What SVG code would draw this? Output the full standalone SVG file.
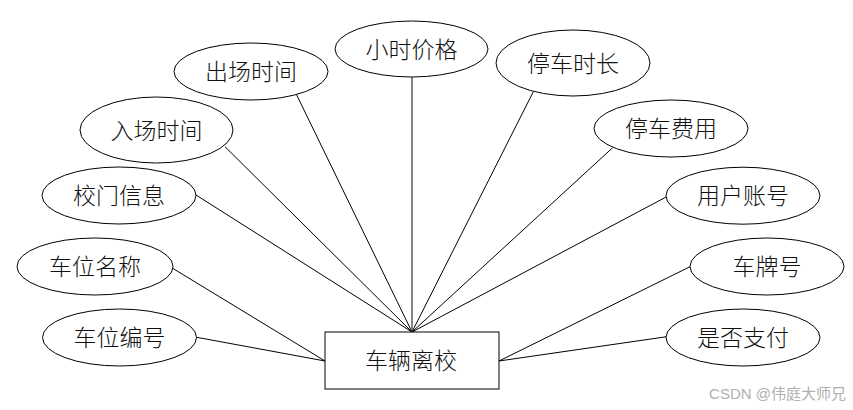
<svg xmlns="http://www.w3.org/2000/svg" width="853" height="410" viewBox="0 0 853 410">
<style>
.n ellipse,.n rect{fill:#fff;stroke:#000;stroke-width:1}
.n text{font-family:"Noto Sans CJK SC","Noto Sans CJK JP",sans-serif;font-size:23px;font-weight:300;fill:#111;text-anchor:middle;dominant-baseline:central}
#edges line{stroke:#000;stroke-width:1}
.wm{font-family:"Liberation Sans","Noto Sans CJK SC",sans-serif;font-size:15px;fill:#b0b0b0}
</style>
<rect width="853" height="410" fill="#fff"/>
<g id="edges">
<line x1="296.7" y1="95" x2="412" y2="332"/>
<line x1="412" y1="77" x2="412" y2="332" style="stroke:#666;stroke-width:1.6"/>
<line x1="225" y1="146.7" x2="412" y2="332"/>
<line x1="196" y1="195" x2="412" y2="332"/>
<line x1="533.3" y1="91.7" x2="412" y2="332"/>
<line x1="612.7" y1="147.7" x2="412" y2="332"/>
<line x1="666.7" y1="196.7" x2="412" y2="332"/>
<line x1="172.7" y1="268.3" x2="325" y2="361"/>
<line x1="196.7" y1="337.3" x2="325" y2="361"/>
<line x1="690" y1="266.7" x2="499" y2="361"/>
<line x1="666.7" y1="336.7" x2="499" y2="361"/>
</g>
<g id="n-main" class="n"><rect x="325" y="332" width="174" height="57"/><text x="411" y="359">车辆离校</text></g>
<g id="n-out" class="n"><ellipse cx="251" cy="71.5" rx="77" ry="28.5"/><text x="251" y="70">出场时间</text></g>
<g id="n-price" class="n"><ellipse cx="411.5" cy="49" rx="76.5" ry="28"/><text x="411.5" y="47.5">小时价格</text></g>
<g id="n-in" class="n"><ellipse cx="156.5" cy="130" rx="76.5" ry="33"/><text x="156.5" y="128.5">入场时间</text></g>
<g id="n-dur" class="n"><ellipse cx="573" cy="63" rx="77" ry="33"/><text x="573" y="61.5">停车时长</text></g>
<g id="n-fee" class="n"><ellipse cx="671" cy="128.5" rx="77" ry="28.5"/><text x="671" y="127">停车费用</text></g>
<g id="n-user" class="n"><ellipse cx="743" cy="195.7" rx="77" ry="28.5"/><text x="743" y="194.2">用户账号</text></g>
<g id="n-gate" class="n"><ellipse cx="119" cy="195.5" rx="77" ry="28.5"/><text x="119" y="194">校门信息</text></g>
<g id="n-slotname" class="n"><ellipse cx="95" cy="266.5" rx="78" ry="28.5"/><text x="95" y="265">车位名称</text></g>
<g id="n-slotno" class="n"><ellipse cx="119.5" cy="337.5" rx="77" ry="28.5"/><text x="119.5" y="336">车位编号</text></g>
<g id="n-plate" class="n"><ellipse cx="767" cy="266.5" rx="77" ry="28.5"/><text x="767" y="265">车牌号</text></g>
<g id="n-paid" class="n"><ellipse cx="743" cy="337.5" rx="77" ry="28.5"/><text x="743" y="336">是否支付</text></g>
<text class="wm" x="846" y="399" text-anchor="end">CSDN @伟庭大师兄</text>
</svg>
